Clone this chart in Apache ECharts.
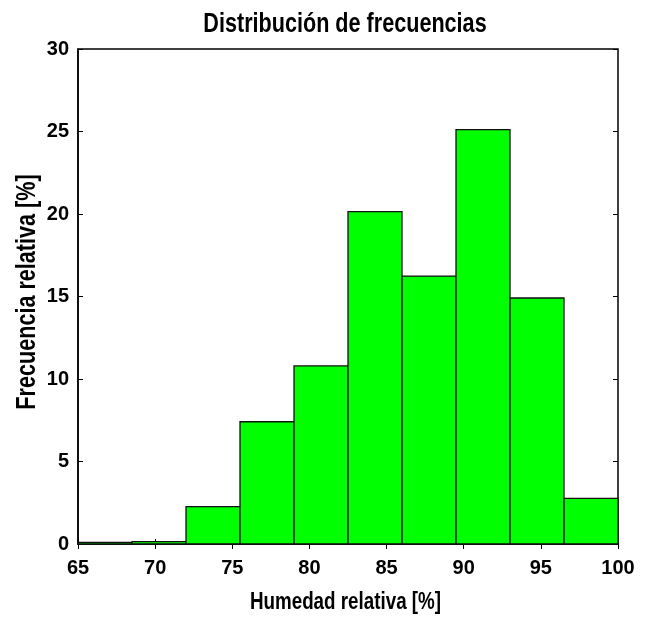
<!DOCTYPE html>
<html>
<head>
<meta charset="utf-8">
<title>Distribución de frecuencias</title>
<script src="https://cdn.jsdelivr.net/npm/echarts@6/dist/echarts.min.js"></script>
<style>
  html, body { margin: 0; padding: 0; background: #fff; }
  #main { width: 649px; height: 618px; }
</style>
</head>
<body>
<div id="main"></div>
<script type="text/javascript">
// bordes de las clases (humedad relativa, %)
var binEdges = [65, 68.5, 72, 75.5, 79, 82.5, 86, 89.5, 93, 96.5, 100];
// frecuencia relativa de cada clase (%)
var freq = [0.1, 0.15, 2.26, 7.41, 10.79, 20.14, 16.24, 25.11, 14.91, 2.77];
var xTicks = [65, 70, 75, 80, 85, 90, 95, 100];
var yTicks = [0, 5, 10, 15, 20, 25, 30];

var myChart = echarts.init(document.getElementById('main'));

var font = '"Liberation Sans", Arial, sans-serif';
var histData = freq.map(function (v, i) {
    return [binEdges[i], binEdges[i + 1], v];
});

var tickStyle = { show: true, inside: true, length: 5, lineStyle: { color: '#000', width: 1 } };

// textos estrechos (tipo Arial Narrow): escalado horizontal
function narrowText(txt, size, x, y, rot) {
    return {
        type: 'text',
        x: x,
        y: y,
        rotation: rot || 0,
        scaleX: 0.8,
        silent: true,
        style: {
            text: txt,
            font: 'bold ' + size + 'px ' + font,
            fill: '#000',
            align: 'center',
            verticalAlign: 'middle'
        }
    };
}

option = {
    animation: false,
    backgroundColor: '#fff',
    graphic: [
        narrowText('Distribución de frecuencias', 27, 345, 25),
        narrowText('Humedad relativa [%]', 23.5, 345.5, 602.5),
        narrowText('Frecuencia relativa [%]', 27, 27.5, 292, Math.PI / 2)
    ],
    grid: {
        left: 78,
        right: 31,
        top: 49,
        bottom: 74,
        containLabel: false,
        outerBoundsMode: 'none',
        show: true,
        borderColor: '#000',
        borderWidth: 1.5,
        backgroundColor: '#fff'
    },
    xAxis: [{
        type: 'value',
        min: xTicks[0],
        max: xTicks[xTicks.length - 1],
        interval: 5,
        position: 'bottom',
        axisLine: { show: true, lineStyle: { color: '#000', width: 1.5 } },
        axisTick: tickStyle,
        axisLabel: { fontFamily: font, fontSize: 20, fontWeight: 'bold', color: '#000', margin: 14 },
        splitLine: { show: false }
    }, {
        type: 'value',
        min: xTicks[0],
        max: xTicks[xTicks.length - 1],
        interval: 5,
        position: 'top',
        axisLine: { show: false },
        axisTick: tickStyle,
        axisLabel: { show: false },
        splitLine: { show: false }
    }],
    yAxis: [{
        type: 'value',
        min: yTicks[0],
        max: yTicks[yTicks.length - 1],
        interval: 5,
        position: 'left',
        axisLine: { show: true, lineStyle: { color: '#000', width: 1.5 } },
        axisTick: tickStyle,
        axisLabel: { fontFamily: font, fontSize: 20, fontWeight: 'bold', color: '#000', margin: 9 },
        splitLine: { show: false }
    }, {
        type: 'value',
        min: yTicks[0],
        max: yTicks[yTicks.length - 1],
        interval: 5,
        position: 'right',
        axisLine: { show: false },
        axisTick: tickStyle,
        axisLabel: { show: false },
        splitLine: { show: false }
    }],
    series: [{
        type: 'custom',
        xAxisIndex: 0,
        yAxisIndex: 0,
        encode: { x: [0, 1], y: 2 },
        renderItem: function (params, api) {
            var p0 = api.coord([api.value(0), 0]);
            var p1 = api.coord([api.value(1), api.value(2)]);
            return {
                type: 'rect',
                shape: { x: p0[0], y: p1[1], width: p1[0] - p0[0], height: p0[1] - p1[1] },
                style: { fill: '#00ff00', stroke: '#111', lineWidth: 1.3 }
            };
        },
        data: histData
    }]
};

myChart.setOption(option);
</script>
</body>
</html>
